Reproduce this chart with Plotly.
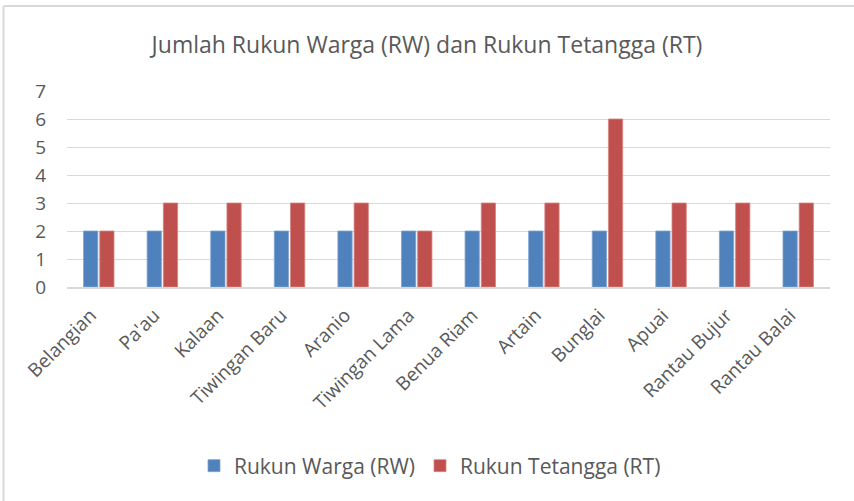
import plotly.graph_objects as go

categories = ["Belangian", "Pa'au", "Kalaan", "Tiwingan Baru", "Aranio", "Tiwingan Lama",
              "Benua Riam", "Artain", "Bunglai", "Apuai", "Rantau Bujur", "Rantau Balai"]
rw_values = [2, 2, 2, 2, 2, 2, 2, 2, 2, 2, 2, 2]
rt_values = [2, 3, 3, 3, 3, 2, 3, 3, 6, 3, 3, 3]
y_ticks = [0, 1, 2, 3, 4, 5, 6, 7]

FONT = "Open Sans"
GREY = "#595959"

L, R, T, B = 67, 24, 91, 214
W, H = 854, 501
pw, ph = W - L - R, H - T - B

fig = go.Figure()
fig.add_trace(go.Bar(name="Rukun Warga (RW)", x=categories, y=rw_values,
                     marker=dict(color="#4f81bd", line=dict(color="#7fa3d1", width=0.8))))
fig.add_trace(go.Bar(name="Rukun Tetangga (RT)", x=categories, y=rt_values,
                     marker=dict(color="#c0504d", line=dict(color="#d58583", width=0.8))))

def px_x(p):
    return (p - L) / pw

def px_y(p):
    return (H - B - p) / ph

fig.add_shape(type="line", xref="paper", yref="paper",
              x0=px_x(3.5), x1=px_x(854), y0=px_y(6), y1=px_y(6),
              line=dict(color="#d9d9d9", width=2))
fig.add_shape(type="line", xref="paper", yref="paper",
              x0=px_x(3.5), x1=px_x(3.5), y0=px_y(6), y1=px_y(501),
              line=dict(color="#d9d9d9", width=2))

fig.update_layout(
    width=W, height=H,
    margin=dict(l=L, r=R, t=T, b=B, pad=0, autoexpand=False),
    paper_bgcolor="white", plot_bgcolor="white",
    barmode="group", bargap=0.49, bargroupgap=0.12,
    title=dict(text="Jumlah Rukun Warga (RW) dan Rukun Tetangga (RT)",
               x=0.5, xanchor="center", y=1 - 45 / H, yanchor="middle",
               font=dict(family=FONT, size=23, color=GREY)),
    font=dict(family=FONT, color=GREY),
    legend=dict(orientation="h", x=px_x(430), xanchor="center", y=px_y(466), yanchor="middle",
                font=dict(family=FONT, size=21, color=GREY), itemwidth=30,
                bgcolor="rgba(0,0,0,0)"),
    showlegend=True,
)
fig.update_xaxes(showgrid=False, showline=True, linecolor="#d9d9d9", linewidth=1.5,
                 tickangle=-45, ticks="", automargin=False,
                 ticklabelstandoff=8, ticklabelshift=-8,
                 tickfont=dict(family=FONT, size=19, color=GREY))
fig.update_yaxes(range=[0, 7], tickvals=y_ticks, showgrid=True, gridcolor="#d9d9d9",
                 gridwidth=1.2, zeroline=False, showline=False, ticks="",
                 ticklabelstandoff=20, automargin=False,
                 tickfont=dict(family=FONT, size=19, color=GREY))

fig.write_html("out.html", config={"displayModeBar": False},
               post_script="document.body.style.margin='0';document.body.style.overflow='hidden';")
